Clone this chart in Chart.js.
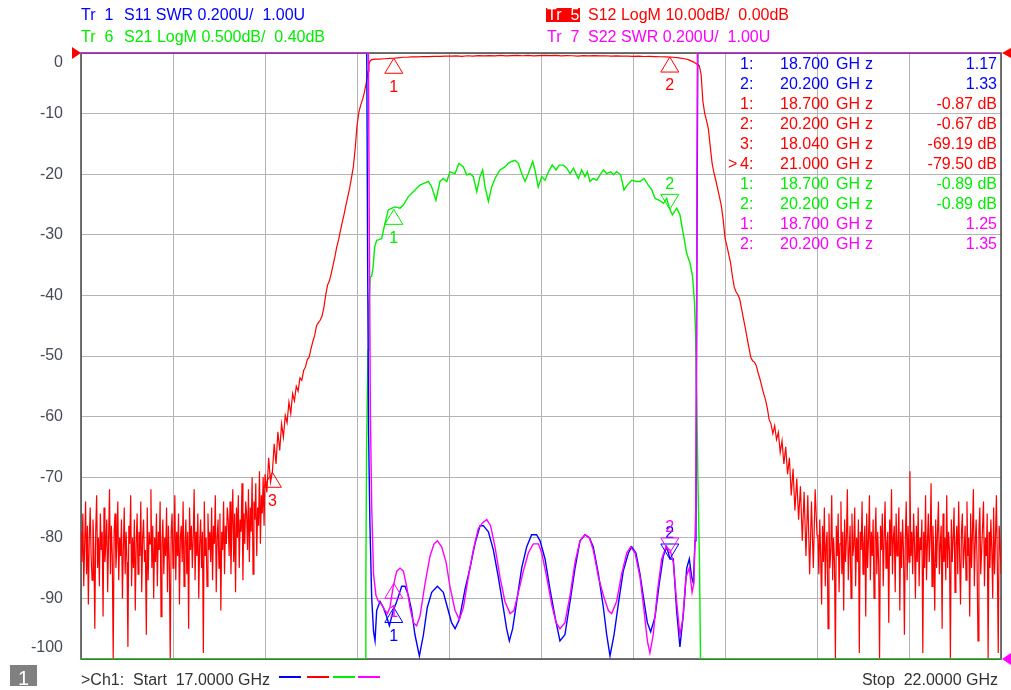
<!DOCTYPE html>
<html>
<head>
<meta charset="utf-8">
<title>Filter sweep 17 - 22 GHz</title>
<script src="https://cdn.jsdelivr.net/npm/chart.js@4.4.1/dist/chart.umd.min.js"></script>
<style>
  html, body { margin: 0; padding: 0; background: #fff; }
  #wrap { position: relative; width: 1011px; height: 690px; overflow: hidden;
          font: 16px "Liberation Sans", Arial, sans-serif; }
  #wrap canvas { position: absolute; left: 0; top: 0; }
  .t { position: absolute; white-space: pre; line-height: 16px; }
  .r { text-align: right; }
  #tr5 { position: absolute; left: 546px; top: 8px; width: 34px; height: 14px; background: #ff0000; }
  #chbox { position: absolute; left: 10px; top: 665px; width: 27px; height: 21px; background: #808080; }
  .seg { position: absolute; top: 676px; width: 22px; height: 2px; }
</style>
</head>
<body>
<div id="wrap">
  <canvas id="vna" width="1011" height="690"></canvas>
  <div id="tr5"></div>
  <div id="chbox"></div>
  <div id="labels"></div>
</div>
<script>
// sweep
const fStart = 17.0;
const fStop = 22.0;
const dbTicks = [0, -10, -20, -30, -40, -50, -60, -70, -80, -90, -100];

// Tr 5  S12 LogM (dB). Lower stop band, one sample every 5 MHz from 17.000 GHz
const s12LowDb = [
  -79, -84, -76, -88, -81, -74, -86, -78, -91, -80, -75, -83, -87, -77, -82, -95, -79, -73, -85, -80,
  -88, -76, -82, -79, -93, -75, -84, -81, -77, -89, -80, -72, -86, -78, -83, -100, -79, -76, -85, -81,
  -74, -87, -80, -83, -77, -90, -82, -75, -86, -79, -84, -98, -78, -81, -73, -88, -80, -85, -77, -92,
  -81, -76, -86, -79, -83, -74, -89, -80, -77, -84, -82, -96, -75, -87, -79, -81, -72, -85, -78, -90,
  -80, -84, -76, -88, -79, -82, -74, -93, -81, -77, -86, -80, -83, -75, -89, -78, -84, -100, -79, -76,
  -85, -81, -73, -87, -79, -83, -76, -91, -80, -78, -84, -74, -88, -81, -77, -86, -79, -95, -75, -82,
  -78, -85, -80, -72, -87, -79, -83, -76, -90, -81, -77, -85, -79, -99, -74, -83, -80, -88, -76, -82,
  -79, -84, -75, -87, -78, -81, -73, -89, -80, -77, -85, -76, -92, -79, -82, -74, -86, -78, -81, -75,
  -77, -83, -74, -86, -78, -72, -84, -76, -89, -75, -80, -73, -85, -77, -79, -71, -87, -76, -81, -74,
  -76, -82, -72, -84, -75, -79, -70, -86, -74, -77, -71, -83, -75, -78, -69, -81, -73, -76, -70, -78
];
// skirts and pass band
const s12MidFreq = [
  18.00, 18.01, 18.02, 18.03, 18.04, 18.05, 18.06, 18.07, 18.08, 18.09,
  18.10, 18.11, 18.12, 18.13, 18.14, 18.15, 18.16, 18.17, 18.18, 18.19,
  18.20, 18.21, 18.22, 18.23, 18.24, 18.25, 18.26, 18.27, 18.28, 18.29,
  18.30, 18.31, 18.32, 18.33, 18.34, 18.35, 18.36, 18.37, 18.38, 18.39,
  18.40, 18.41, 18.42, 18.43, 18.44, 18.45, 18.46, 18.47, 18.48, 18.49,
  18.50, 18.51, 18.52, 18.53, 18.54, 18.55, 18.56, 18.565, 18.57, 18.58,
  18.60, 18.62, 18.65, 18.68, 18.70, 18.72, 18.75, 18.78, 18.80, 18.83,
  18.86, 18.89, 18.92, 18.95, 18.98, 19.01, 19.04, 19.07, 19.10, 19.13,
  19.16, 19.19, 19.22, 19.25, 19.28, 19.31, 19.34, 19.37, 19.40, 19.43,
  19.46, 19.49, 19.52, 19.55, 19.58, 19.61, 19.64, 19.67, 19.70, 19.73,
  19.76, 19.79, 19.82, 19.85, 19.88, 19.91, 19.94, 19.97, 20.00, 20.03,
  20.06, 20.09, 20.12, 20.15, 20.18, 20.20, 20.22, 20.25, 20.28, 20.30,
  20.33, 20.36, 20.37, 20.38, 20.39, 20.40, 20.41, 20.42, 20.43, 20.44,
  20.45, 20.46, 20.47, 20.48, 20.49, 20.50, 20.51, 20.52, 20.53, 20.54,
  20.55, 20.56, 20.57, 20.58, 20.59, 20.60, 20.61, 20.62, 20.63, 20.64,
  20.65, 20.66, 20.67, 20.68, 20.69, 20.70, 20.71, 20.72, 20.73, 20.74,
  20.75, 20.76, 20.77, 20.78, 20.79, 20.80, 20.81, 20.82, 20.83, 20.84,
  20.85, 20.86, 20.87, 20.88, 20.89, 20.90, 20.91, 20.92, 20.93, 20.94,
  20.95, 20.96, 20.97, 20.98, 20.99, 21.00
];
const s12MidDb = [
  -69.5, -72.5, -66.8, -70.8, -69.19, -64.5, -67.8, -62.5, -65.6, -61.2,
  -63.4, -59.8, -61.0, -57.6, -59.5, -56.2, -57.4, -55.0, -55.8, -53.6,
  -54.0, -52.4, -51.8, -50.6, -50.2, -48.8, -47.6, -46.6, -45.0, -44.5,
  -44.1, -43.4, -42.0, -39.9, -38.3, -37.6, -36.4, -35.0, -33.6, -32.0,
  -30.8, -29.3, -27.9, -26.6, -25.1, -23.7, -22.3, -20.6, -18.8, -15.8,
  -12.0, -9.8, -8.6, -7.7, -6.5, -5.0, -3.0, -1.9, -1.35, -1.1,
  -1.02, -1.0, -0.95, -0.9, -0.87, -0.8, -0.7, -0.68, -0.62, -0.64,
  -0.58, -0.6, -0.55, -0.57, -0.5, -0.52, -0.48, -0.55, -0.45, -0.5,
  -0.44, -0.49, -0.42, -0.47, -0.40, -0.46, -0.42, -0.38, -0.45, -0.40,
  -0.47, -0.42, -0.39, -0.44, -0.40, -0.48, -0.42, -0.45, -0.52, -0.44,
  -0.47, -0.42, -0.49, -0.45, -0.50, -0.47, -0.53, -0.50, -0.55, -0.52,
  -0.58, -0.56, -0.60, -0.62, -0.64, -0.67, -0.70, -0.80, -0.95, -1.10,
  -1.50, -2.10, -3.50, -8.0, -10.0, -11.2, -12.6, -15.5, -18.2, -19.8,
  -21.0, -22.4, -23.8, -25.2, -27.5, -30.5, -31.8, -33.2, -34.6, -36.8,
  -38.6, -39.4, -39.9, -40.6, -42.2, -43.8, -45.3, -47.0, -48.6, -50.2,
  -50.8, -51.0, -51.6, -52.8, -53.8, -55.0, -56.2, -57.2, -58.6, -60.5,
  -61.2, -62.8, -61.5, -63.8, -62.6, -65.9, -64.0, -67.8, -65.0, -69.5,
  -66.8, -73.0, -68.6, -75.5, -70.2, -77.0, -71.5, -80.5, -72.4, -83.0,
  -73.0, -86.0, -74.0, -85.0, -72.0, -79.5
];
// upper stop band, one sample every 5 MHz from 21.005 GHz
const s12HighDb = [
  -80, -86, -77, -83, -91, -78, -84, -75, -88, -81, -79, -95, -76, -85, -82, -73, -87, -80, -84, -100,
  -78, -83, -76, -89, -81, -74, -86, -79, -92, -77, -84, -80, -72, -87, -82, -78, -90, -76, -83, -81,
  -75, -88, -80, -84, -77, -99, -79, -82, -74, -86, -81, -78, -93, -76, -85, -80, -73, -87, -79, -83,
  -77, -90, -81, -75, -86, -79, -84, -100, -78, -82, -76, -88, -80, -74, -85, -81, -79, -94, -77, -83,
  -72, -86, -80, -78, -89, -76, -83, -81, -75, -92, -79, -85, -77, -82, -96, -80, -74, -87, -78, -84,
  -69, -83, -79, -86, -76, -81, -90, -78, -84, -75, -88, -80, -82, -77, -99, -79, -85, -73, -87, -81,
  -76, -84, -80, -71, -88, -78, -83, -92, -77, -85, -79, -74, -86, -81, -78, -95, -76, -84, -80, -87,
  -73, -85, -79, -82, -100, -77, -84, -80, -75, -89, -81, -78, -86, -74, -83, -91, -79, -76, -85, -82,
  -78, -87, -74, -83, -80, -93, -76, -85, -79, -72, -88, -81, -77, -84, -97, -79, -75, -86, -82, -78,
  -74, -88, -80, -83, -76, -100, -79, -85, -77, -82, -90, -75, -86, -80, -73, -84, -99, -78, -81, -86
];

// Tr 6  S21 LogM (dB)
const s21Freq = [
  17.000, 18.545, 18.548, 18.552, 18.556, 18.560, 18.565, 18.572, 18.580, 18.588,
  18.596, 18.607, 18.620, 18.634, 18.652, 18.670, 18.690, 18.707, 18.734, 18.752,
  18.779, 18.806, 18.842, 18.888, 18.906, 18.929, 18.951, 18.969, 18.988, 19.005,
  19.033, 19.054, 19.078, 19.096, 19.114, 19.132, 19.151, 19.168, 19.183, 19.196,
  19.214, 19.232, 19.250, 19.277, 19.304, 19.322, 19.341, 19.359, 19.377, 19.395,
  19.413, 19.431, 19.455, 19.467, 19.485, 19.504, 19.522, 19.540, 19.561, 19.582,
  19.599, 19.621, 19.640, 19.658, 19.676, 19.690, 19.703, 19.721, 19.739, 19.752,
  19.766, 19.784, 19.803, 19.821, 19.839, 19.857, 19.879, 19.893, 19.911, 19.933,
  19.951, 19.969, 19.993, 20.020, 20.038, 20.060, 20.083, 20.102, 20.120, 20.143,
  20.165, 20.183, 20.200, 20.214, 20.238, 20.255, 20.273, 20.292, 20.310, 20.324,
  20.334, 20.340, 20.347, 20.352, 20.361, 20.367, 22.000
];
const s21Db = [
  -4.60, -4.60, -4.00, -2.90, -2.40, -2.05, -1.67, -1.45, -1.44, -1.36,
  -1.20, -1.145, -1.14, -1.13, -1.005, -0.895, -0.88, -0.87, -0.88, -0.855,
  -0.785, -0.745, -0.69, -0.66, -0.705, -0.815, -0.66, -0.635, -0.66, -0.58,
  -0.595, -0.51, -0.54, -0.605, -0.595, -0.62, -0.745, -0.62, -0.565, -0.705,
  -0.825, -0.705, -0.635, -0.565, -0.54, -0.51, -0.495, -0.485, -0.51, -0.595,
  -0.66, -0.595, -0.495, -0.565, -0.705, -0.62, -0.65, -0.58, -0.525, -0.565,
  -0.525, -0.525, -0.55, -0.595, -0.55, -0.595, -0.635, -0.565, -0.62, -0.58,
  -0.66, -0.635, -0.65, -0.605, -0.565, -0.595, -0.58, -0.605, -0.58, -0.605,
  -0.73, -0.69, -0.65, -0.66, -0.66, -0.635, -0.69, -0.73, -0.80, -0.815,
  -0.84, -0.80, -0.89, -0.935, -0.88, -0.935, -1.09, -1.255, -1.335, -1.445,
  -1.655, -1.915, -2.50, -3.055, -3.77, -4.60, -4.60
];

// Tr 1  S11 SWR
const s11Freq = [
  17.000, 18.553, 18.558, 18.563, 18.570, 18.580, 18.590, 18.598, 18.607, 18.625,
  18.643, 18.661, 18.676, 18.697, 18.716, 18.743, 18.761, 18.779, 18.797, 18.815,
  18.839, 18.861, 18.882, 18.906, 18.937, 18.969, 18.996, 19.014, 19.033, 19.056,
  19.087, 19.114, 19.141, 19.169, 19.187, 19.214, 19.241, 19.268, 19.295, 19.313,
  19.328, 19.346, 19.368, 19.395, 19.422, 19.449, 19.476, 19.495, 19.522, 19.549,
  19.576, 19.603, 19.630, 19.658, 19.685, 19.712, 19.739, 19.763, 19.784, 19.812,
  19.839, 19.857, 19.875, 19.897, 19.920, 19.947, 19.975, 19.993, 20.016, 20.038,
  20.060, 20.078, 20.096, 20.120, 20.143, 20.165, 20.183, 20.201, 20.219, 20.237,
  20.255, 20.274, 20.292, 20.306, 20.319, 20.328, 20.337, 20.342, 20.347, 20.352,
  22.000
];
const s11Swr = [
  3.00, 3.00, 2.30, 1.75, 1.45, 1.20, 1.09, 1.06, 1.16, 1.19,
  1.17, 1.14, 1.11, 1.16, 1.19, 1.24, 1.24, 1.21, 1.16, 1.08,
  1.01, 1.08, 1.17, 1.22, 1.24, 1.22, 1.16, 1.12, 1.10, 1.13,
  1.23, 1.30, 1.38, 1.44, 1.44, 1.42, 1.36, 1.27, 1.17, 1.10,
  1.06, 1.10, 1.19, 1.30, 1.37, 1.41, 1.41, 1.39, 1.33, 1.23,
  1.14, 1.06, 1.08, 1.19, 1.30, 1.39, 1.41, 1.40, 1.37, 1.28,
  1.17, 1.08, 1.01, 1.08, 1.18, 1.29, 1.35, 1.37, 1.35, 1.28,
  1.19, 1.12, 1.09, 1.14, 1.25, 1.34, 1.37, 1.33, 1.33, 1.16,
  1.04, 1.15, 1.30, 1.33, 1.27, 1.25, 1.39, 1.41, 2.30, 3.00,
  3.00
];

// Tr 7  S22 SWR
const s22Freq = [
  17.000, 18.562, 18.567, 18.573, 18.580, 18.590, 18.603, 18.616, 18.634, 18.652,
  18.665, 18.679, 18.697, 18.716, 18.734, 18.752, 18.770, 18.788, 18.806, 18.824,
  18.842, 18.870, 18.897, 18.919, 18.937, 18.960, 18.984, 19.005, 19.033, 19.056,
  19.078, 19.105, 19.132, 19.159, 19.183, 19.205, 19.226, 19.250, 19.277, 19.304,
  19.332, 19.353, 19.377, 19.404, 19.431, 19.458, 19.486, 19.504, 19.531, 19.558,
  19.582, 19.603, 19.630, 19.658, 19.685, 19.712, 19.739, 19.763, 19.784, 19.812,
  19.839, 19.866, 19.884, 19.911, 19.938, 19.966, 19.987, 20.011, 20.038, 20.060,
  20.078, 20.092, 20.110, 20.132, 20.156, 20.179, 20.201, 20.219, 20.237, 20.255,
  20.270, 20.288, 20.306, 20.321, 20.331, 20.342, 20.350, 22.000
];
const s22Swr = [
  3.00, 3.00, 2.40, 1.80, 1.50, 1.28, 1.21, 1.19, 1.18, 1.16,
  1.15, 1.17, 1.24, 1.29, 1.30, 1.29, 1.24, 1.17, 1.12, 1.11,
  1.14, 1.25, 1.34, 1.38, 1.39, 1.37, 1.32, 1.24, 1.16, 1.13,
  1.17, 1.27, 1.36, 1.43, 1.45, 1.46, 1.44, 1.37, 1.27, 1.19,
  1.15, 1.16, 1.22, 1.29, 1.35, 1.38, 1.38, 1.35, 1.27, 1.18,
  1.12, 1.10, 1.12, 1.21, 1.32, 1.39, 1.41, 1.40, 1.36, 1.27,
  1.21, 1.16, 1.15, 1.19, 1.28, 1.35, 1.37, 1.35, 1.27, 1.16,
  1.06, 1.02, 1.08, 1.22, 1.33, 1.37, 1.36, 1.32, 1.19, 1.08,
  1.13, 1.27, 1.30, 1.22, 1.25, 1.52, 3.00, 3.00
];

// markers
const s11MarkFreq = [18.7, 20.2];
const s11MarkSwr = [1.17, 1.33];
const s12MarkFreq = [18.7, 20.2, 18.04, 21.0];
const s12MarkDb = [-0.87, -0.67, -69.19, -79.50];
const s21MarkFreq = [18.7, 20.2];
const s21MarkDb = [-0.89, -0.89];
const s22MarkFreq = [18.7, 20.2];
const s22MarkSwr = [1.25, 1.35];

const BLUE = '#0000ff', RED = '#ff0000', GREEN = '#00ee00', MAG = '#ff00ff';

// build point lists
const s12Points = [];
s12LowDb.forEach((v, i) => s12Points.push({ x: +(17.000 + i * 0.005).toFixed(3), y: v }));
s12MidFreq.forEach((f, i) => s12Points.push({ x: f, y: s12MidDb[i] }));
s12HighDb.forEach((v, i) => s12Points.push({ x: +(21.005 + i * 0.005).toFixed(3), y: v }));
const pts = (xs, ys) => xs.map((x, i) => ({ x: x, y: ys[i] }));

// markers drawn as open triangles, apex on the trace
const markerSets = [
  { axis: 'y', freq: s12MarkFreq, val: s12MarkDb, color: RED, dir: ['up', 'up', 'up'], count: 3 },
  { axis: 'yS21', freq: s21MarkFreq, val: s21MarkDb, color: GREEN, dir: ['up', 'down'], count: 2 },
  { axis: 'ySwr', freq: s11MarkFreq, val: s11MarkSwr, color: BLUE, dir: ['up', 'down'], count: 2 },
  { axis: 'ySwr', freq: s22MarkFreq, val: s22MarkSwr, color: MAG, dir: ['up', 'down'], count: 2 }
];

const vnaOverlay = {
  id: 'vnaOverlay',
  beforeDatasetsDraw(chart) {
    const { ctx, chartArea: a } = chart;
    ctx.save();
    ctx.strokeStyle = '#474747';
    ctx.lineWidth = 1.5;
    ctx.strokeRect(a.left, a.top, a.right - a.left, a.bottom - a.top);
    ctx.restore();
  },
  afterDatasetsDraw(chart) {
    const { ctx, chartArea: a, scales } = chart;
    const xs = scales.x, ys = scales.y;
    ctx.save();
    ctx.font = '16px "Liberation Sans", Arial, sans-serif';

    // y tick labels, end labels pulled inside the grid
    ctx.fillStyle = '#474b57';
    ctx.textAlign = 'right';
    ctx.textBaseline = 'middle';
    dbTicks.forEach((v, i) => {
      let y = ys.getPixelForValue(v);
      if (i === 0) y += 10;
      if (i === dbTicks.length - 1) y -= 11;
      ctx.fillText(String(v), a.left - 18, y);
    });

    // reference level arrows
    const top = ys.getPixelForValue(0), bot = ys.getPixelForValue(-100);
    ctx.fillStyle = RED;
    ctx.beginPath();
    ctx.moveTo(a.left - 9, top - 6); ctx.lineTo(a.left, top); ctx.lineTo(a.left - 9, top + 6);
    ctx.fill();
    ctx.beginPath();
    ctx.moveTo(a.right + 10, top - 5); ctx.lineTo(a.right + 1, top); ctx.lineTo(a.right + 10, top + 5);
    ctx.fill();
    ctx.fillStyle = MAG;
    ctx.beginPath();
    ctx.moveTo(a.right + 10, bot - 6); ctx.lineTo(a.right + 1, bot); ctx.lineTo(a.right + 10, bot + 6);
    ctx.fill();

    // markers
    ctx.lineWidth = 1;
    ctx.textAlign = 'center';
    markerSets.forEach(m => {
      const sc = scales[m.axis];
      for (let i = 0; i < m.count; i++) {
        const x = xs.getPixelForValue(m.freq[i]);
        const y = sc.getPixelForValue(m.val[i]);
        const up = m.dir[i] === 'up';
        const h = up ? 15 : -15;
        ctx.strokeStyle = m.color;
        ctx.beginPath();
        ctx.moveTo(x, y); ctx.lineTo(x - 9, y + h); ctx.lineTo(x + 9, y + h);
        ctx.closePath();
        ctx.stroke();
        ctx.fillStyle = m.color;
        ctx.fillText(String(i + 1), x, up ? y + 29 : y - 25);
      }
    });
    ctx.restore();
  }
};

const line = (data, color, order, axis, w) => ({
  data: data, yAxisID: axis, borderColor: color, borderWidth: w,
  pointRadius: 0, showLine: true, fill: false, tension: 0, order: order
});

new Chart(document.getElementById('vna'), {
  type: 'scatter',
  data: {
    datasets: [
      line(pts(s22Freq, s22Swr), MAG, 1, 'ySwr', 1.4),
      line(pts(s11Freq, s11Swr), BLUE, 2, 'ySwr', 1.4),
      line(pts(s21Freq, s21Db), GREEN, 3, 'yS21', 1.4),
      line(s12Points, RED, 4, 'y', 1.2)
    ]
  },
  options: {
    responsive: false,
    animation: false,
    events: [],
    layout: { padding: { top: 53, right: 10, bottom: 31, left: 0 } },
    plugins: { legend: { display: false }, tooltip: { enabled: false } },
    scales: {
      x: {
        type: 'linear', min: fStart, max: fStop,
        ticks: { display: false, stepSize: 0.5 },
        grid: { color: '#b4b4b4', lineWidth: 1, drawTicks: false },
        border: { display: false },
        afterFit(s) { s.height = 0; }
      },
      y: {
        type: 'linear', position: 'left', min: -100, max: 0,
        ticks: { display: false, stepSize: 10 },
        grid: { color: '#b4b4b4', lineWidth: 1, drawTicks: false },
        border: { display: false },
        afterFit(s) { s.width = 81; }
      },
      yS21: { type: 'linear', display: false, min: -4.6, max: 0.4 },
      ySwr: { type: 'linear', display: false, min: 1.0, max: 3.0 }
    }
  },
  plugins: [vnaOverlay]
});

// text overlays
const labels = document.getElementById('labels');
function put(text, x, base, color, cls) {
  const d = document.createElement('div');
  d.className = 't' + (cls ? ' ' + cls : '');
  d.textContent = text;
  d.style.top = (base - 13.5) + 'px';
  d.style.color = color;
  if (cls === 'r') { d.style.right = (1011 - x) + 'px'; } else { d.style.left = x + 'px'; }
  labels.appendChild(d);
  return d;
}

put('Tr  1', 81, 20, BLUE);
put('S11 SWR 0.200U/  1.00U', 124, 20, BLUE);
put('Tr  6', 81, 42, GREEN);
put('S21 LogM 0.500dB/  0.40dB', 124, 42, GREEN);
put('Tr  5', 547, 20, '#ffffff');
put('S12 LogM 10.00dB/  0.00dB', 588, 20, RED);
put('Tr  7', 547, 42, MAG);
put('S22 SWR 0.200U/  1.00U', 588, 42, MAG);

// marker table
const rows = [];
s11MarkFreq.forEach((f, i) => rows.push([i + 1, f, s11MarkSwr[i].toFixed(2), BLUE, false]));
s12MarkFreq.forEach((f, i) => rows.push([i + 1, f, s12MarkDb[i].toFixed(2) + ' dB', RED, i === 3]));
s21MarkFreq.forEach((f, i) => rows.push([i + 1, f, s21MarkDb[i].toFixed(2) + ' dB', GREEN, false]));
s22MarkFreq.forEach((f, i) => rows.push([i + 1, f, s22MarkSwr[i].toFixed(2), MAG, false]));
rows.forEach((r, k) => {
  const base = 69 + 20 * k;
  if (r[4]) put('>', 728, base, r[3]);
  put(r[0] + ':', 740, base, r[3]);
  put(r[1].toFixed(3), 780, base, r[3]);
  const g = put('GH', 836, base, r[3]);
  const z = document.createElement('span');
  z.textContent = 'z';
  z.style.marginLeft = '5px';
  g.appendChild(z);
  put(r[2], 997, base, r[3], 'r');
});

// status bar
const one = put('1', 18, 683, '#ffffff');
one.style.fontSize = '20px';
put('>Ch1:  Start  17.0000 GHz', 81, 685, '#333333');
put('Stop  22.0000 GHz', 998, 685, '#333333', 'r');
[[279, BLUE], [307, RED], [333, GREEN], [358, MAG]].forEach(s => {
  const d = document.createElement('div');
  d.className = 'seg';
  d.style.left = s[0] + 'px';
  d.style.background = s[1];
  labels.appendChild(d);
});
</script>
</body>
</html>
